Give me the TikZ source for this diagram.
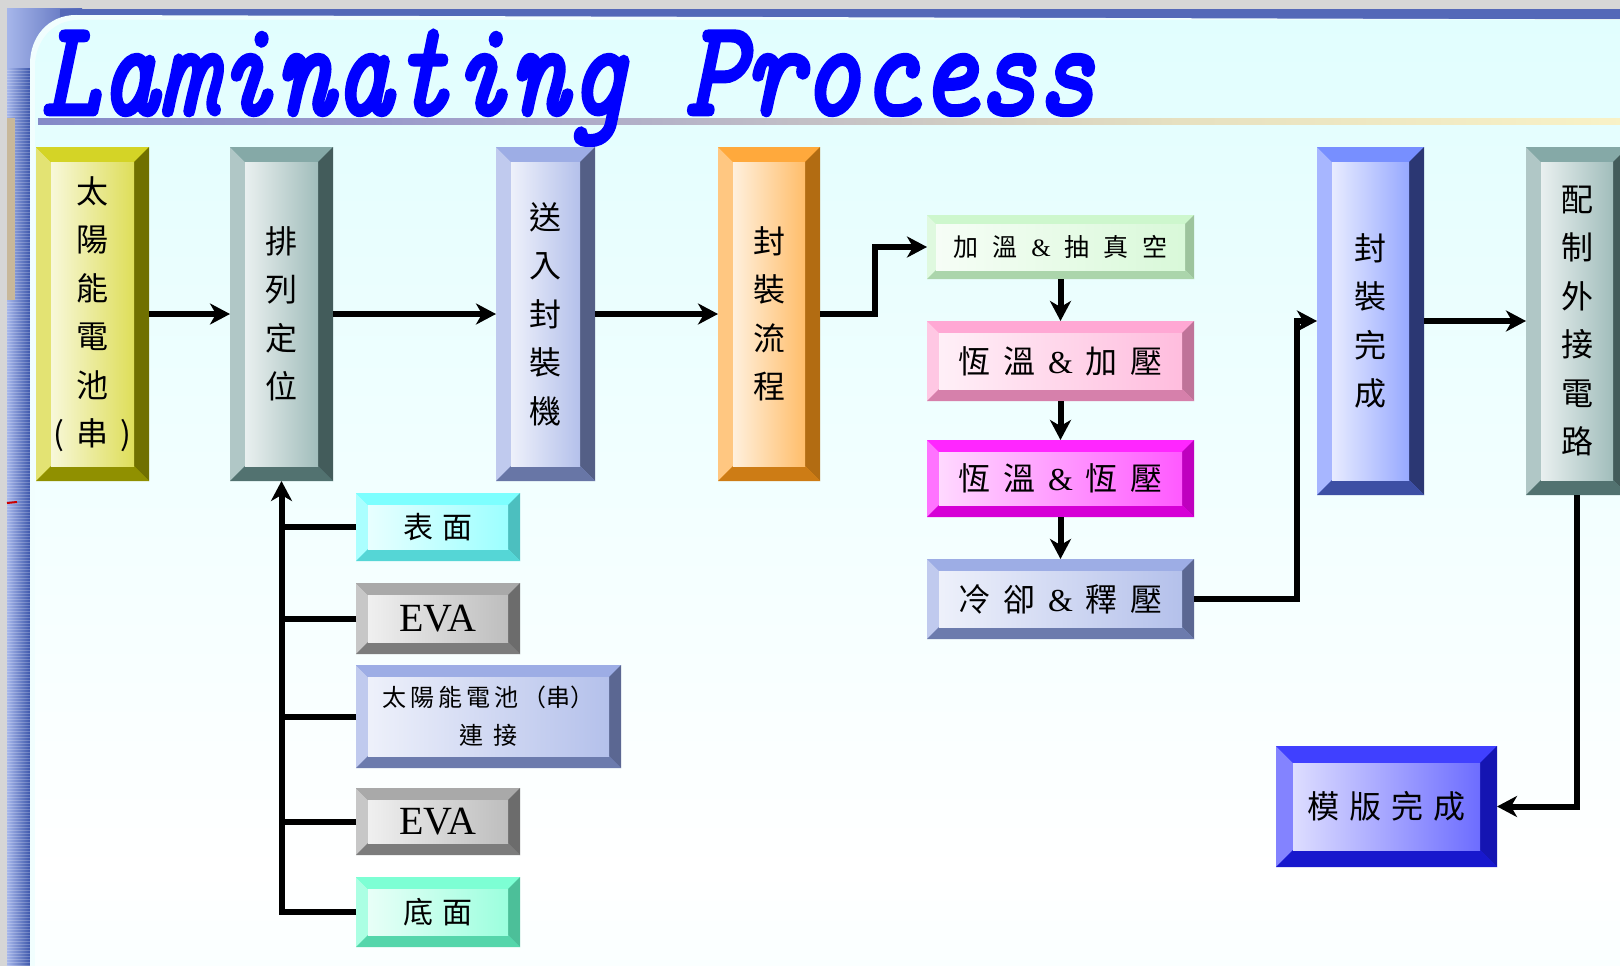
\documentclass[tikz,border=0pt]{standalone}
\usepackage{graphicx}
\usepackage{fontspec}
\setmainfont{Liberation Serif}
\newfontfamily\cjk{Noto Sans CJK TC}
\newfontfamily\ttl{Latin Modern Mono}[ItalicFeatures={FakeBold=3.6}]
\usetikzlibrary{arrows.meta,calc}

\definecolor{cYel}{HTML}{CCCC00}
\definecolor{cTeal}{HTML}{6F9A97}
\definecolor{cPeri}{HTML}{8C9FE0}
\definecolor{cOra}{HTML}{FF9A1A}
\definecolor{cGrn}{HTML}{C4F5C4}
\definecolor{cPink}{HTML}{FF99CC}
\definecolor{cMag}{HTML}{FF00FF}
\definecolor{cBlu}{HTML}{5F7BFF}
\definecolor{cDBlu}{HTML}{1E1EFF}
\definecolor{cCyan}{HTML}{66FFFF}
\definecolor{cGray}{HTML}{9A9A9A}
\definecolor{cAqua}{HTML}{66FFCC}
\definecolor{cTitle}{HTML}{0000FF}
\definecolor{bgTop}{HTML}{D0FCFC}
\definecolor{bgMid}{HTML}{F2FFFF}
\definecolor{bgBot}{HTML}{E2FEFF}
\definecolor{gray0}{HTML}{D6D6D6}
\definecolor{band1}{HTML}{A6B6EA}
\definecolor{band2}{HTML}{3E58AC}
\definecolor{topband}{HTML}{5468B8}
\definecolor{bar1}{HTML}{5365C0}
\definecolor{bar2}{HTML}{9A9ACB}
\definecolor{bar3}{HTML}{E6E0C0}
\definecolor{bar4}{HTML}{FFF8C8}
\definecolor{bar5}{HTML}{FFFCDC}
\definecolor{beige}{HTML}{C8B89A}

\pgfdeclareverticalshading{bgshade}{100bp}{color(0bp)=(bgBot); color(30bp)=(white); color(50bp)=(bgMid); color(100bp)=(bgTop)}
\pgfdeclarehorizontalshading{barshade}{100bp}{color(0bp)=(bar1); color(36bp)=(bar2); color(61bp)=(bar3); color(80bp)=(bar4); color(100bp)=(bar5)}

\newcommand\vfont{\cjk\fontsize{32}{48.5}\selectfont}
\newcommand\hfont{\cjk\fontsize{32}{38}\selectfont}
\newcommand\gp[1]{\hspace{#1pt}}
\newcommand\amp{{\rmfamily\&}}

\tikzset{
  bev/.style n args={3}{shape=rectangle, inner sep=0pt, outer sep=0pt,
    fill=#1, draw=none, align=center, text=black,
    path picture={
      \fill[#1!55!white] (path picture bounding box.north west)
        -- ([xshift=#2pt,yshift=-#2pt]path picture bounding box.north west)
        -- ([xshift=#2pt,yshift=#2pt]path picture bounding box.south west)
        -- (path picture bounding box.south west) -- cycle;
      \fill[#1!85!white] (path picture bounding box.north west)
        -- (path picture bounding box.north east)
        -- ([xshift=-#2pt,yshift=-#2pt]path picture bounding box.north east)
        -- ([xshift=#2pt,yshift=-#2pt]path picture bounding box.north west) -- cycle;
      \fill[#1!#3!black] (path picture bounding box.north east)
        -- (path picture bounding box.south east)
        -- ([xshift=-#2pt,yshift=#2pt]path picture bounding box.south east)
        -- ([xshift=-#2pt,yshift=-#2pt]path picture bounding box.north east) -- cycle;
      \fill[#1!#3!black!65!#1] (path picture bounding box.south west)
        -- (path picture bounding box.south east)
        -- ([xshift=-#2pt,yshift=#2pt]path picture bounding box.south east)
        -- ([xshift=#2pt,yshift=#2pt]path picture bounding box.south west) -- cycle;
      \shade[left color=#1!15!white, middle color=white, right color=#1!65!white]
        ([xshift=#2pt,yshift=-#2pt]path picture bounding box.north west)
        rectangle ([xshift=-#2pt,yshift=#2pt]path picture bounding box.south east);
    }},
  arr/.style={line width=6pt, -{Stealth[length=20pt,width=21pt,inset=6pt]}},
  ln/.style={line width=6pt},
}

\begin{document}
\begin{tikzpicture}[x=1pt,y=-1pt]
\useasboundingbox (0,0) rectangle (1620,966);
\clip (0,0) rectangle (1620,966);
% ---------- slide background ----------
\fill[gray0] (0,0) rectangle (1620,966);
\shade[left color=band1, right color=band2] (7,9) rectangle (30,966);
\foreach \yy in {20,23,...,965} \draw[white, opacity=0.22, line width=1pt] (7,\yy) -- (30,\yy);
\shade[left color=band1, right color=topband] (7,9) rectangle (82,68);
\fill[topband] (60,9) rectangle (1620,19.5);
\fill[white!70!bgTop] (30,966) -- (30,64) .. controls (30,37) and (48,15) .. (76,15) -- (1620,19.5) -- (1620,966) -- cycle;
\shade[shading=bgshade] (35,966) -- (35,66) .. controls (35,42) and (52,20) .. (78,20) -- (1620,20) -- (1620,966) -- cycle;
\fill[beige] (7,118) rectangle (15,300);
\draw[red!80!black, line width=2pt] (7,503) -- (17,502);
% ---------- title ----------
\shade[shading=barshade] (38,118) rectangle (1620,124);
\node[anchor=base west, inner sep=0pt, text=cTitle] (title) at (41,114)
  {\resizebox{1054pt}{83pt}{\ttl\fontsize{90}{90}\selectfont\itshape Laminating Process}};
% ---------- tall boxes ----------
\node[bev={cYel}{15}{55}, minimum width=113pt, minimum height=334pt, font=\vfont] (n1) at (92.5,314)
  {太\\陽\\能\\電\\池\\(\gp{12}串\gp{12})};
\node[bev={cTeal}{15}{60}, minimum width=103pt, minimum height=334pt, font=\vfont] (n2) at (281.5,314)
  {排\\列\\定\\位};
\node[bev={cPeri}{15}{60}, minimum width=99pt, minimum height=334pt, font=\vfont] (n3) at (545.5,314)
  {送\\入\\封\\裝\\機};
\node[bev={cOra}{15}{70}, minimum width=102pt, minimum height=334pt, font=\vfont] (n4) at (769,314)
  {封\\裝\\流\\程};
\node[bev={cBlu}{15}{45}, minimum width=107pt, minimum height=348pt, font=\vfont] (n9) at (1370.5,321)
  {封\\裝\\完\\成};
\node[bev={cTeal}{15}{60}, minimum width=102pt, minimum height=348pt, font=\vfont] (n10) at (1577,321)
  {配\\制\\外\\接\\電\\路};
% ---------- process steps ----------
\node[bev={cGrn}{9}{80}, minimum width=267pt, minimum height=64pt, font=\cjk\fontsize{25}{30}\selectfont] (n5) at (1060.5,247)
  {加\gp{14}溫\gp{14}\amp\gp{14}抽\gp{14}真\gp{14}空};
\node[bev={cPink}{12}{75}, minimum width=267pt, minimum height=80pt, font=\hfont] (n6) at (1060.5,361)
  {恆\gp{13}溫\gp{13}\amp\gp{13}加\gp{13}壓};
\node[bev={cMag}{12}{75}, minimum width=267pt, minimum height=77pt, font=\hfont] (n7) at (1060.5,478.5)
  {恆\gp{13}溫\gp{13}\amp\gp{13}恆\gp{13}壓};
\node[bev={cPeri}{12}{65}, minimum width=267pt, minimum height=80pt, font=\hfont] (n8) at (1060.5,599)
  {冷\gp{13}卻\gp{13}\amp\gp{13}釋\gp{13}壓};
\node[bev={cDBlu}{17}{70}, minimum width=221pt, minimum height=121pt, font=\hfont] (n11) at (1386.5,806.5)
  {模\gp{10}版\gp{10}完\gp{10}成};
% ---------- materials ----------
\node[bev={cCyan}{12}{75}, minimum width=164pt, minimum height=68pt, font=\cjk\fontsize{30}{36}\selectfont] (s1) at (438,527)
  {表\gp{10}面};
\node[bev={cGray}{12}{70}, minimum width=164pt, minimum height=71pt, font=\fontsize{40}{44}\selectfont] (s2) at (438,618.5)
  {EVA};
\node[bev={cPeri}{12}{65}, minimum width=265pt, minimum height=103pt, font=\cjk\fontsize{24}{38}\selectfont] (s3) at (488.5,716.5)
  {太\gp{4}陽\gp{4}能\gp{4}電\gp{4}池\gp{4}（串）\\連\gp{11}接};
\node[bev={cGray}{12}{70}, minimum width=164pt, minimum height=67pt, font=\fontsize{40}{44}\selectfont] (s4) at (438,821.5)
  {EVA};
\node[bev={cAqua}{12}{75}, minimum width=164pt, minimum height=70pt, font=\cjk\fontsize{30}{36}\selectfont] (s5) at (438,912)
  {底\gp{10}面};
% ---------- connectors ----------
\coordinate (e1) at (875,314);
\coordinate (e2) at (1297,599);
\draw[arr] (n1.east) -- (n2.west);
\draw[arr] (n2.east) -- (n3.west);
\draw[arr] (n3.east) -- (n4.west);
\draw[arr] (n4.east) -- (e1) |- (n5.west);
\draw[arr] (n5.south) -- (n6.north);
\draw[arr] (n6.south) -- (n7.north);
\draw[arr] (n7.south) -- (n8.north);
\draw[arr] (n8.east) -- (e2) |- (n9.west);
\draw[arr] (n9.east) -- (n10.west);
\draw[arr] (n10.south) |- (n11.east);
\draw[arr] (s5.west) -| (n2.south);
\foreach \s in {s1,s2,s3,s4}
  \draw[ln] (\s.west) -- (\s.west -| n2.south);
\end{tikzpicture}
\end{document}
